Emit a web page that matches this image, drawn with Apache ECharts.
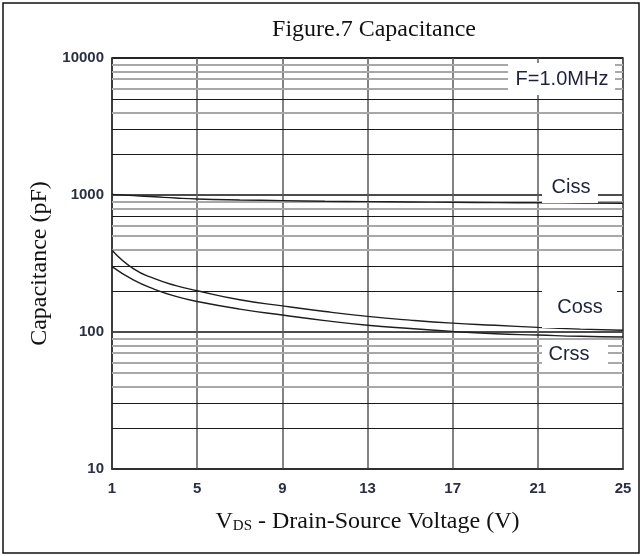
<!DOCTYPE html>
<html>
<head>
<meta charset="utf-8">
<script src="https://cdn.jsdelivr.net/npm/echarts@6/dist/echarts.min.js"></script>
<style>
html,body{margin:0;padding:0;background:#fff;}
#chart{width:642px;height:556px;}
</style>
</head>
<body>
<div id="chart"></div>
<script>
// ---- data ----
const vds  = [1, 2, 3, 4, 5, 7, 9, 11, 13, 15, 17, 19, 21, 23, 25];
const ciss = [1010, 990, 970, 950, 935, 920, 910, 900, 895, 890, 885, 880, 878, 874, 870];
const coss = [395, 290, 245, 218, 200, 172, 155, 141, 130, 122, 116, 112, 108, 105, 103];
const crss = [300, 240, 205, 182, 167, 147, 133, 121, 112, 106, 101, 97, 95, 93, 92];
const xTickLabels = [1, 5, 9, 13, 17, 21, 25];
const yTickLabels = [10, 100, 1000, 10000];
const darkGridValues  = [20, 30, 200, 300, 700, 2000, 3000, 5000];
const lightGridValues = [40, 50, 60, 70, 80, 90, 400, 500, 600, 800, 900, 4000, 6000, 7000, 8000, 9000];

const chart = echarts.init(document.getElementById('chart'), null, {renderer: 'canvas'});

const serif = '"Liberation Serif", "Times New Roman", serif';
const sans = '"Liberation Sans", Arial, sans-serif';
const lineCol = '#1e1e1e';

function mk(vals){ return vals.map(v => ({yAxis: v})); }
function pairs(ys){ return vds.map((x, i) => [x, ys[i]]); }

const option = {
  animation: false,
  backgroundColor: '#fff',
  title: {
    text: 'Figure.7 Capacitance',
    left: 369, top: 13, textAlign: 'center',
    textStyle: {fontFamily: serif, fontWeight: 'normal', fontSize: 24, color: '#111'}
  },
  grid: {left: 112, right: 19, top: 58, bottom: 87, show: true, borderColor: '#333', borderWidth: 1.5, backgroundColor: '#fff'},
  xAxis: {
    type: 'value', min: xTickLabels[0], max: xTickLabels[xTickLabels.length - 1], interval: 4,
    name: '{v|V}{s|DS}{v| - Drain-Source Voltage (V)}',
    nameLocation: 'middle', nameGap: 40,
    nameTextStyle: {rich: {
      v: {fontFamily: serif, fontSize: 24, color: '#111'},
      s: {fontFamily: serif, fontSize: 15, color: '#111', verticalAlign: 'bottom', padding: [10, 0, 0, 0]}
    }},
    axisLine: {show: true, lineStyle: {color: '#333', width: 1.5}},
    axisTick: {show: false},
    axisLabel: {fontFamily: sans, fontSize: 15, fontWeight: 'bold', color: '#2a2f45', margin: 12},
    splitLine: {show: true, lineStyle: {color: '#5a5a5a', width: 1.5}}
  },
  yAxis: {
    type: 'log', logBase: 10, min: yTickLabels[0], max: yTickLabels[yTickLabels.length - 1],
    name: 'Capacitance (pF)', nameLocation: 'middle', nameGap: 58,
    nameTextStyle: {fontFamily: serif, fontSize: 24, color: '#111'},
    axisLine: {show: true, lineStyle: {color: '#333', width: 1.5}},
    axisTick: {show: false},
    axisLabel: {fontFamily: sans, fontSize: 15, fontWeight: 'bold', color: '#2a2f45', margin: 8,
      formatter: v => String(v)},
    splitLine: {show: true, lineStyle: {color: '#111', width: 1.5}},
    minorTick: {show: false}, minorSplitLine: {show: false}
  },
  series: [
    {
      name: 'Ciss', type: 'line', smooth: true, showSymbol: false, data: pairs(ciss),
      lineStyle: {color: lineCol, width: 1.4}, z: 5,
      markLine: {
        silent: true, symbol: 'none', label: {show: false}, z: 1, animation: false,
        data: mk(lightGridValues).map(d => Object.assign(d, {lineStyle: {color: '#a8a8a8', width: 2, type: 'solid'}}))
          .concat(mk(darkGridValues).map(d => Object.assign(d, {lineStyle: {color: '#1a1a1a', width: 1.2, type: 'solid'}})))
      }
    },
    {name: 'Coss', type: 'line', smooth: true, showSymbol: false, data: pairs(coss), lineStyle: {color: lineCol, width: 1.4}, z: 5},
    {name: 'Crss', type: 'line', smooth: true, showSymbol: false, data: pairs(crss), lineStyle: {color: lineCol, width: 1.4}, z: 5}
  ],
  graphic: [
    {type: 'rect', z: 100, shape: {x: 3, y: 3, width: 636, height: 550}, style: {fill: 'none', stroke: '#111', lineWidth: 1.5}},
    {type: 'rect', z: 100, shape: {x: 508, y: 63, width: 107, height: 32}, style: {fill: '#fff'}},
    {type: 'text', z: 101, x: 562, y: 79, style: {text: 'F=1.0MHz', font: '20px ' + sans, fill: '#1c2240', align: 'center', verticalAlign: 'middle'}},
    {type: 'rect', z: 100, shape: {x: 542, y: 175, width: 56, height: 28}, style: {fill: '#fff'}},
    {type: 'text', z: 101, x: 571, y: 187, style: {text: 'Ciss', font: '20px ' + sans, fill: '#1c2240', align: 'center', verticalAlign: 'middle'}},
    {type: 'rect', z: 100, shape: {x: 542, y: 291, width: 75, height: 37}, style: {fill: '#fff'}},
    {type: 'text', z: 101, x: 580, y: 307, style: {text: 'Coss', font: '20px ' + sans, fill: '#1c2240', align: 'center', verticalAlign: 'middle'}},
    {type: 'rect', z: 100, shape: {x: 542, y: 340, width: 66, height: 28}, style: {fill: '#fff'}},
    {type: 'text', z: 101, x: 569, y: 354, style: {text: 'Crss', font: '20px ' + sans, fill: '#1c2240', align: 'center', verticalAlign: 'middle'}}
  ]
};
chart.setOption(option);
</script>
</body>
</html>
